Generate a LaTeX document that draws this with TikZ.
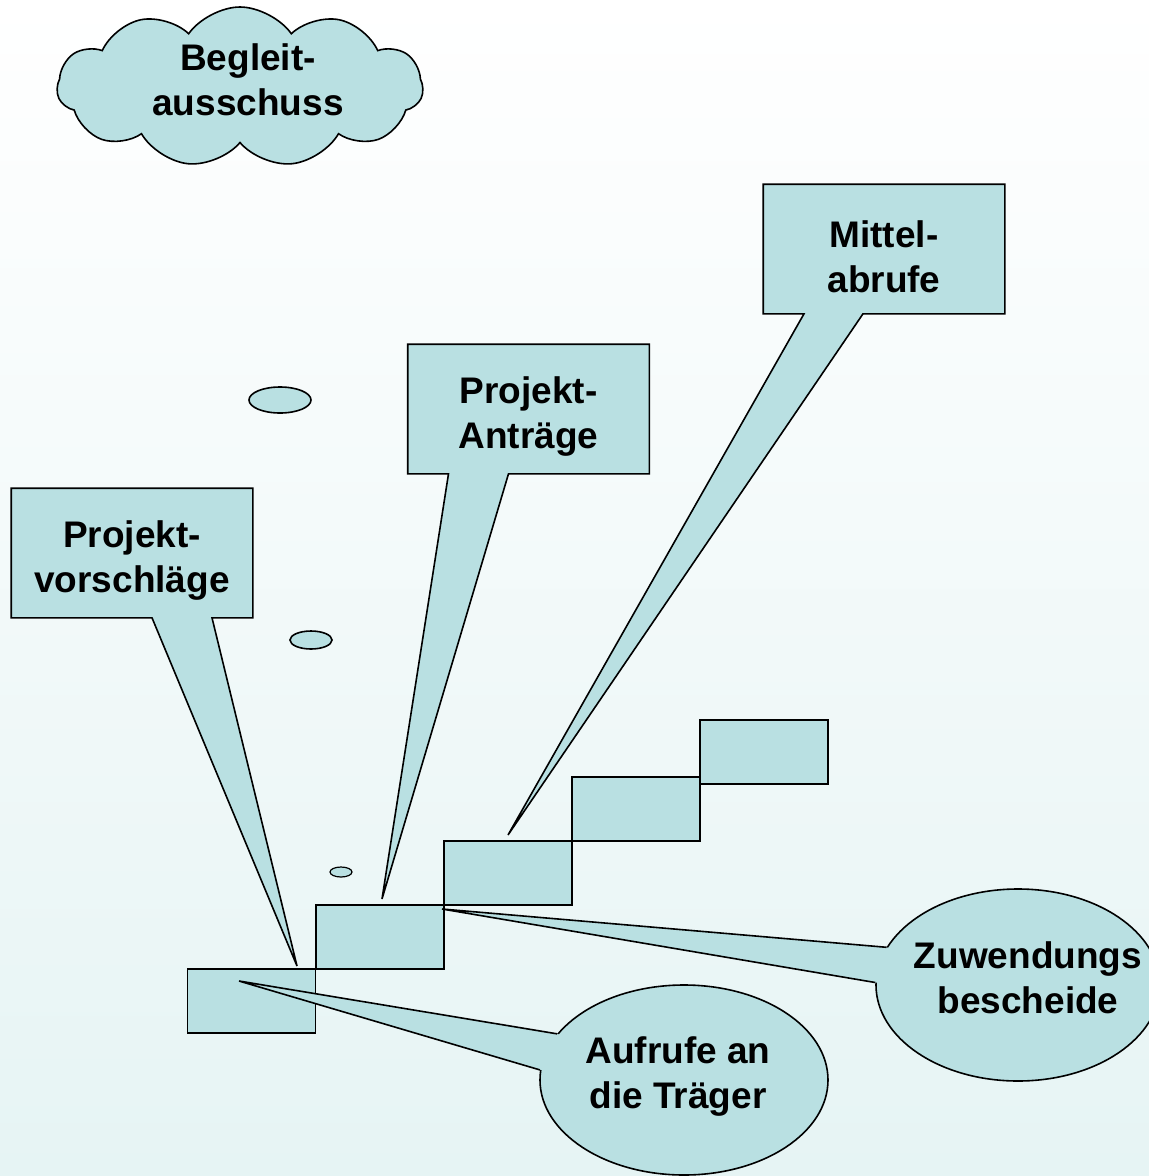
\documentclass[tikz,border=0pt]{standalone}
\usepackage{fontspec}
\setmainfont{Liberation Sans}
\usepackage{tikz}
\usetikzlibrary{shapes,arrows}
\usetikzlibrary{calc}

\definecolor{boxfill}{RGB}{185,224,226}
\definecolor{bglow}{RGB}{230,244,244}

\begin{document}
\begin{tikzpicture}[x=1pt,y=-1pt,line width=1.6pt,draw=black]
	\def \boxwd{240pt}
	\def \boxht{128pt}
	\tikzstyle{s-node}=[rectangle,draw=black,fill=boxfill,inner sep=0pt,minimum width=128pt,minimum height=64pt]
	\tikzstyle{b-node}=[rectangle,inner sep=0pt,minimum width=\boxwd,minimum height=\boxht]
	\tikzstyle{e-node}=[ellipse,draw=black,fill=boxfill,inner sep=0pt]
	\tikzstyle{annot}=[align=center,inner sep=0pt,font=\bfseries\fontsize{37}{45}\selectfont]
	\tikzstyle{callout}=[draw=black,fill=boxfill,line join=miter]

	% background
	\useasboundingbox (0,0) rectangle (1149,1176);
	\shade[top color=white,bottom color=bglow] (0,0) rectangle (1149,1176);

	% cloud
	\node[cloud,cloud puffs=11,cloud puff arc=110,aspect=2.3,draw=black,fill=boxfill,
		inner sep=0pt,minimum width=366pt,minimum height=160pt] (bg-cloud) at (240,87) {};
	\node[annot] (bg-label) at (248,80) {Begleit-\\ausschuss};

	% thought bubbles
	\node[e-node,minimum width=62pt,minimum height=26pt] (dot1) at (280,400) {};
	\node[e-node,minimum width=42pt,minimum height=18pt] (dot2) at (311,640) {};
	\node[e-node,minimum width=22pt,minimum height=10pt,line width=1.2pt] (dot3) at (341,872) {};

	% steps
	\node[s-node] (st1) at (251.5,1001) {};
	\node[s-node] (st2) at (380,937) {};
	\node[s-node] (st3) at (508,873) {};
	\node[s-node] (st4) at (636,809) {};
	\node[s-node] (st5) at (764,752) {};

	% tips
	\coordinate (pv-tip) at (297,966);
	\coordinate (pa-tip) at (382,899);
	\coordinate (ma-tip) at (508,835);
	\coordinate (au-tip) at (239,981);
	\coordinate (zw-tip) at (442,909);

	% box callouts
	\node[b-node] (pv-box) at (132,553) {};
	\node[b-node] (pa-box) at (528.5,409) {};
	\node[b-node] (ma-box) at (884,249) {};

	\draw[callout] (pv-box.north west) -- (pv-box.north east) -- (pv-box.south east)
		-- ($(pv-box.south)+(80,0)$) -- (pv-tip) -- ($(pv-box.south)+(20,0)$)
		-- (pv-box.south west) -- cycle;
	\draw[callout] (pa-box.north west) -- (pa-box.north east) -- (pa-box.south east)
		-- ($(pa-box.south)+(-20,0)$) -- (pa-tip) -- ($(pa-box.south)+(-80,0)$)
		-- (pa-box.south west) -- cycle;
	\draw[callout] (ma-box.north west) -- (ma-box.north east) -- (ma-box.south east)
		-- ($(ma-box.south)+(-21,0)$) -- (ma-tip) -- ($(ma-box.south)+(-80,0)$)
		-- (ma-box.south west) -- cycle;

	% round callouts
	\node[e-node,minimum width=288pt,minimum height=190pt] (au-ell) at (684,1080) {};
	\fill[boxfill] (au-tip) -- (au-ell.160) -- (au-ell.center) -- (au-ell.176) -- cycle;
	\draw[line join=miter] (au-ell.160) -- (au-tip) -- (au-ell.176);

	\node[e-node,minimum width=284pt,minimum height=192pt] (zw-ell) at (1018,985) {};
	\fill[boxfill] (zw-tip) -- (zw-ell.164) -- (zw-ell.center) -- (zw-ell.179) -- cycle;
	\draw[line join=miter] (zw-ell.164) -- (zw-tip) -- (zw-ell.179);

	% labels
	\node[annot] (pv-label) at ($(pv-box.center)+(0,8)$) {Projekt-\\vorschläge};
	\node[annot] (pa-label) at ($(pa-box.center)+(0,8)$) {Projekt-\\Anträge};
	\node[annot] (ma-label) at ($(ma-box.center)+(0,8)$) {Mittel-\\abrufe};
	\node[annot] (au-label) at (678,1076) {Aufrufe an\\die Träger};
	\node[annot] (zw-label) at (1028,978) {Zuwendungs\\bescheide};
\end{tikzpicture}
\end{document}
